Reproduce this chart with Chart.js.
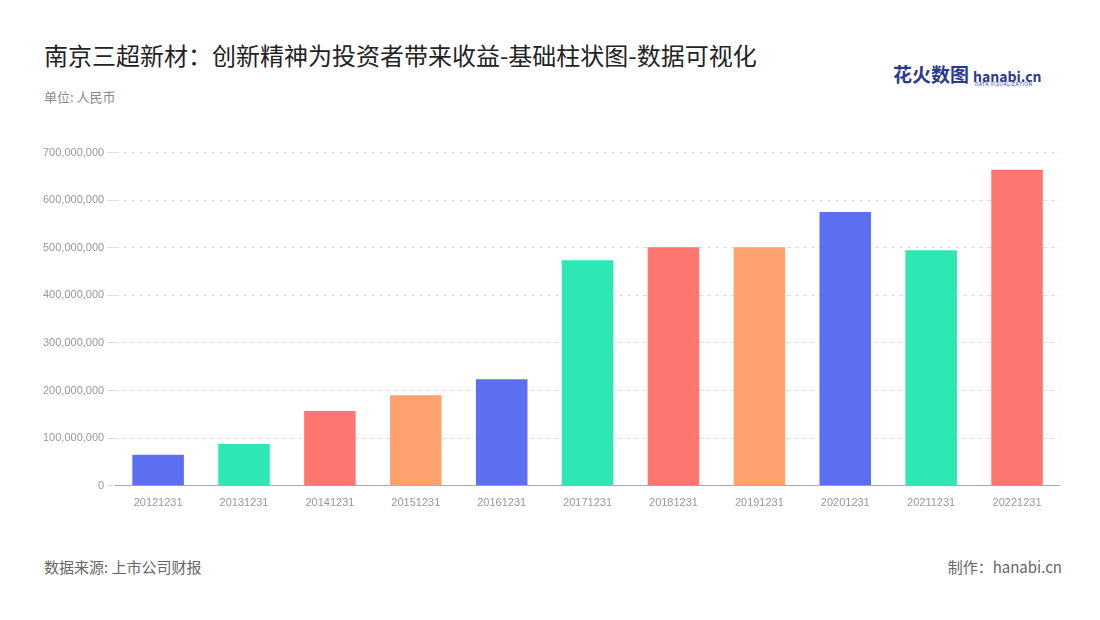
<!DOCTYPE html>
<html><head><meta charset="utf-8">
<script src="https://cdn.jsdelivr.net/npm/chart.js@4"></script>
<style>
body{margin:0;width:1100px;height:620px;background:#fff;font-family:"Noto Sans CJK SC","Noto Sans",sans-serif;position:relative;overflow:hidden}
#t{position:absolute;left:44px;top:37px;font-size:24px;color:#222}
#u{position:absolute;left:44px;top:87px;font-size:13px;color:#888}
#s{position:absolute;left:44px;top:556px;font-size:15px;color:#666}
#m{position:absolute;right:38px;top:556px;font-size:15px;color:#666}
#logo{position:absolute;left:893px;top:60px;font-size:19px;font-weight:bold;color:#2a3a8c}
#logo span{font-size:14px;color:#2a3a8c;margin-left:4px}
#logo small{position:absolute;left:82px;top:20px;font-size:5px;color:#2a3a8c;font-weight:normal;letter-spacing:.5px}
#c{position:absolute;left:40px;top:143px;width:1020px;height:370px}
</style></head><body>
<div id="t">南京三超新材：创新精神为投资者带来收益-基础柱状图-数据可视化</div>
<div id="u">单位: 人民币</div>
<div id="logo">花火数图<span>hanabi.cn</span><small>DATA VISUALIZATION</small></div>
<div id="c"><canvas id="cv"></canvas></div>
<div id="s">数据来源: 上市公司财报</div>
<div id="m">制作：hanabi.cn</div>
<script>
const categories=["20121231","20131231","20141231","20151231","20161231","20171231","20181231","20191231","20201231","20211231","20221231"];
const values=[65000000,88000000,157000000,190000000,224000000,474000000,501000000,501000000,575000000,495000000,664000000];
const palette=["#5b6ff0","#2de8b4","#ff7570","#ffa270"];
new Chart(document.getElementById('cv'),{type:'bar',
data:{labels:categories,datasets:[{data:values,backgroundColor:categories.map((_,i)=>palette[i%4]),categoryPercentage:0.6,barPercentage:1}]},
options:{responsive:true,maintainAspectRatio:false,animation:false,layout:{padding:{top:4}},
plugins:{legend:{display:false},tooltip:{enabled:false}},
scales:{x:{grid:{display:false},border:{color:'#aaa'},ticks:{color:'#999',font:{size:11}}},
y:{min:0,max:700000000,ticks:{stepSize:100000000,color:'#999',font:{size:11},callback:v=>v.toLocaleString('en-US')},
grid:{color:'#ddd'},border:{display:false,dash:[4,4]}}}}});
</script></body></html>
